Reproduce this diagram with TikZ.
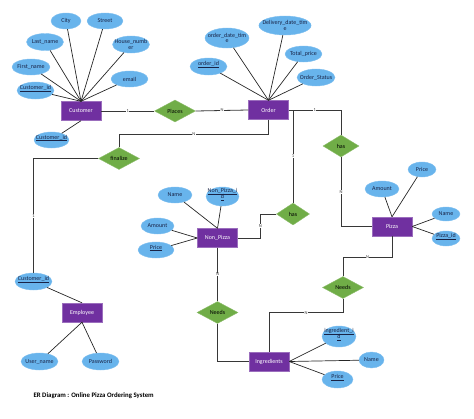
\documentclass[tikz,border=0pt]{standalone}
\usepackage{fontspec}
\setmainfont{Carlito}
\usepackage{tikz}
\usetikzlibrary{shapes.geometric}

\definecolor{entpurple}{RGB}{112,48,160}
\definecolor{relgreen}{RGB}{112,173,71}
\definecolor{attrblue}{RGB}{104,180,236}
\definecolor{linegray}{RGB}{55,55,55}
\definecolor{attrtext}{RGB}{25,35,70}

\newcommand{\keyattr}[1]{\underline{\smash{#1}}}

\tikzset{
  entity/.style={draw=entpurple!70!white, fill=entpurple, rectangle, minimum width=40pt, minimum height=19pt, inner sep=0pt, text=white, font=\fontsize{6}{6.5}\selectfont},
  relation/.style={draw=relgreen!80!white, fill=relgreen, diamond, aspect=1.9, minimum width=41pt, minimum height=22pt, inner sep=0pt, font=\fontsize{6}{6.5}\selectfont},
  attr/.style={draw=attrblue!85!white, fill=attrblue, ellipse, minimum width=37pt, minimum height=16pt, inner xsep=-4pt, inner ysep=-1pt, align=center, text=attrtext, font=\fontsize{6}{5.8}\selectfont},
  link/.style={draw=black!85, line width=0.7pt},
  conn/.style={draw=linegray, line width=0.8pt},
  card/.style={fill=white, inner sep=0.5pt, font=\fontsize{4.5}{5}\selectfont, text=linegray}
}

\begin{document}
\begin{tikzpicture}[x=1pt, y=-1pt]
  \useasboundingbox (0,0) rectangle (474,418);

  % entities
  \node (cust) [entity] at (81,111) {Customer};
  \node (ord) [entity] at (268.5,110) {Order};
  \node (np) [entity] at (217.5,238) {Non\_Pizza};
  \node (pz) [entity] at (392,226.5) {Pizza};
  \node (emp) [entity] at (82,312.5) {Employee};
  \node (ing) [entity] at (269,361.5) {Ingredients};

  % relations
  \node (places) [relation] at (175,111) {Places};
  \node (fin) [relation] at (119,158.5) {finalize};
  \node (haspz) [relation, minimum width=36pt] at (341,146) {has};
  \node (hasnp) [relation, minimum width=33pt] at (293,214) {has};
  \node (needsnp) [relation] at (217.5,312.5) {Needs};
  \node (needspz) [relation] at (343,287.5) {Needs};

  % customer attributes
  \node (ccity) [attr, minimum width=30pt] at (66,21) {City};
  \node (cstreet) [attr, minimum width=36pt] at (105,21) {Street};
  \node (clast) [attr, minimum height=17pt] at (45,42) {Last\_name};
  \node (chouse) [attr, minimum height=17pt] at (131,44.5) {House\_numb\\er};
  \node (cfirst) [attr, minimum width=38pt] at (31,67) {First\_name};
  \node (cmail) [attr] at (129.5,79) {email};
  \node (cid) [attr, minimum height=17pt] at (35.5,90.5) {\keyattr{Customer\_id}};
  \node (cid2) [attr, minimum width=35pt] at (51.5,140) {\keyattr{Customer\_id}};

  % order attributes
  \node (odate) [attr, minimum width=44pt, minimum height=20pt] at (227,38) {order\_date\_tim\\e};
  \node (odel) [attr, minimum width=48pt, minimum height=19pt] at (285,25.5) {Delivery\_date\_tim\\e};
  \node (ototal) [attr] at (303.5,54) {Total\_price};
  \node (oid) [attr, minimum height=17pt] at (208.5,66.5) {\keyattr{order\_id}};
  \node (ostat) [attr, minimum width=38pt, minimum height=17pt] at (316,77.5) {Order\_Status};

  % non pizza attributes
  \node (npname) [attr, minimum width=34pt] at (175,195) {Name};
  \node (npid) [attr, minimum width=33pt, minimum height=19pt] at (222.5,196.5) {\keyattr{Non\_Pizza\_i}\\\keyattr{d}};
  \node (npamt) [attr, minimum width=33pt] at (157.5,226) {Amount};
  \node (npprice) [attr, minimum width=36pt] at (156,250) {\keyattr{Price}};

  % pizza attributes
  \node (pzamt) [attr, minimum width=34pt] at (382,189) {Amount};
  \node (pzprice) [attr, minimum width=28pt, minimum height=15pt] at (422,169.5) {Price};
  \node (pzname) [attr, minimum width=28pt, minimum height=14pt] at (446,214) {Name};
  \node (pzid) [attr, minimum width=28pt, minimum height=15pt] at (446,238.5) {\keyattr{Pizza\_id}};

  % employee attributes
  \node (ecid) [attr, minimum height=17pt] at (33.5,281.5) {\keyattr{Customer\_id}};
  \node (euser) [attr, minimum height=17pt] at (39.5,361.5) {User\_name};
  \node (epass) [attr, minimum height=17pt] at (100.5,361.5) {Password};

  % ingredient attributes
  \node (iid) [attr, minimum width=34pt, minimum height=21pt] at (339,336.5) {\keyattr{ingredient\_i}\\\keyattr{d}};
  \node (iname) [attr, minimum width=25pt] at (371.5,360) {Name};
  \node (iprice) [attr, minimum width=31pt, minimum height=17pt] at (337.5,379.5) {\keyattr{Price}};

  % attribute links
  \draw[link] (ccity) -- (cust.north);
  \draw[link] (cstreet) -- (cust.north);
  \draw[link] (clast) -- (cust.north);
  \draw[link] (chouse) -- (cust.north);
  \draw[link] (cfirst) -- (cust.north);
  \draw[link] (cmail) -- (cust.north);
  \draw[link] (cid) -- (cust.north);
  \draw[link] (cid2) -- (cust.south);
  \draw[link] (odate) -- (ord.north);
  \draw[link] (odel) -- (ord.north);
  \draw[link] (ototal) -- (ord.north);
  \draw[link] (oid) -- (ord.north);
  \draw[link] (ostat) -- (ord.north);
  \draw[link] (npname) -- (np.north);
  \draw[link] (npid) -- (np.north);
  \draw[link] (npamt) -- (np.west);
  \draw[link] (npprice) -- (np.west);
  \draw[link] (pzamt) -- (pz.north);
  \draw[link] (pzprice) -- (pz.north);
  \draw[link] (pzname) -- (pz.east);
  \draw[link] (pzid) -- (pz.east);
  \draw[link] (ecid) -- (emp.north);
  \draw[link] (euser) -- (emp.south);
  \draw[link] (epass) -- (emp.south);
  \draw[link] (iid) -- (ing.east);
  \draw[link] (iname) -- (ing.east);
  \draw[link] (iprice) -- (ing.east);

  % relationship connectors
  \draw[conn] (cust.east) -- node[card] {1} (places.west);
  \draw[conn] (places.east) -- node[card] {N} (ord.west);
  \draw[conn] (ord.south) -- ++(0,14.5) -| node[card, pos=0.25] {N} (fin.north);
  \draw[conn] (fin.west) -| node[card, pos=0.75] {1} (ecid.north);
  \draw[conn] (ord.east) -| node[card, pos=0.25] {1} (haspz.north);
  \draw[conn] (haspz.south) |- node[card, pos=0.25] {N} (pz.west);
  \draw[conn] (ord.east) -| node[card, pos=0.75] {1} (hasnp.north);
  \draw[conn] (hasnp.west) -- ++(-16,0) |- node[card, pos=0.25] {N} (np.east);
  \draw[conn] (np.south) -- node[card] {N} (needsnp.north);
  \draw[conn] (needsnp.south) |- (ing.west);
  \draw[conn] (pz.south) -- ++(0,21) -| node[card, pos=0.25] {N} (needspz.north);
  \draw[conn] (needspz.south) -- ++(0,14) -| node[card, pos=0.25] {N} (ing.north);

  % title
  \node (title) [anchor=west, font=\fontsize{6.8}{8}\selectfont\bfseries] at (30,396) {ER Diagram : Online Pizza Ordering System};
\end{tikzpicture}
\end{document}
